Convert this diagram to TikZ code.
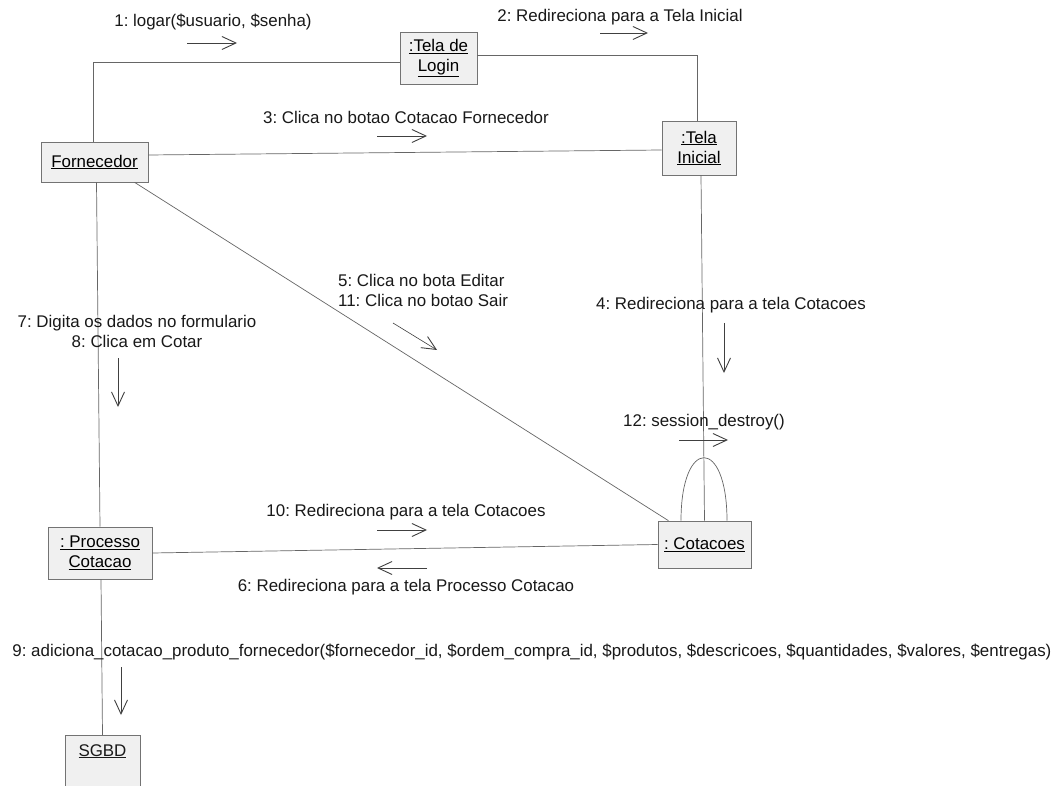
\documentclass[tikz,border=0pt]{standalone}
\usepackage{fontspec}
\setmainfont{Liberation Sans}
\usetikzlibrary{arrows.meta}
\frenchspacing
\begin{document}
\begin{tikzpicture}[x=1pt,y=-1pt,
  obj/.style={draw=black!55, fill=black!6, line width=0.6pt, inner sep=0pt, align=center, font=\fontsize{16.9}{20}\selectfont},
  lnk/.style={draw=black!60, line width=0.7pt},
  msg/.style={draw=black!75, line width=0.6pt, -{Straight Barb[length=14pt,width=13pt,line width=0.9pt]}},
  lbl/.style={inner sep=0pt, font=\fontsize{16.9}{20}\selectfont, text=black!90}]
\useasboundingbox[fill=white] (0,0) rectangle (1063,786);
\clip (0,0) rectangle (1063,786);
% objects
\node[obj, minimum width=77pt, minimum height=52pt] (login) at (438.5,58) {\underline{:Tela de}\\\underline{Login}};
\node[obj, minimum width=107pt, minimum height=40pt] (forn) at (94.5,162) {\underline{Fornecedor}};
\node[obj, minimum width=74pt, minimum height=54pt] (inicial) at (699,148) {\underline{:Tela}\\\underline{Inicial}};
\node[obj, minimum width=104pt, minimum height=52pt] (proc) at (100,553) {\underline{: Processo}\\\underline{Cotacao}};
\node[obj, minimum width=93pt, minimum height=47pt] (cot) at (704.5,544.5) {\underline{: Cotacoes}};
\node[obj, minimum width=75pt, minimum height=62pt, anchor=north,
  label={[lbl, anchor=north, yshift=-9pt]north:\underline{SGBD}}] (sgbd) at (102.5,735) {};
% links
\draw[lnk] ([xshift=-1pt]forn.north) |- ([yshift=-4pt]login.west);
\draw[lnk] ([yshift=3pt]login.east) -| ([xshift=-2pt]inicial.north);
\draw[lnk] ([yshift=7pt]forn.east) -- ([yshift=-2pt]inicial.west);
\draw[lnk] ([xshift=2pt]inicial.south) -- (cot.north);
\draw[lnk] ([xshift=40pt]forn.south) -- ([xshift=-36pt]cot.north);
\draw[lnk] ([xshift=2pt]forn.south) -- (proc.north);
\draw[lnk] (proc.east) -- (cot.west);
\draw[lnk] ([xshift=1pt]proc.south) -- (sgbd.north);
\draw[lnk] ([xshift=-23.5pt]cot.north) .. controls +(0,-84) and +(0,-84) .. ([xshift=22.5pt]cot.north);
% message arrows
\coordinate (m1a) at (187,43);  \coordinate (m1b) at (237,43);
\coordinate (m2a) at (600,33);  \coordinate (m2b) at (648,33);
\coordinate (m3a) at (377,136); \coordinate (m3b) at (427,136);
\coordinate (m4a) at (724,323); \coordinate (m4b) at (724,373);
\coordinate (m5a) at (393,323); \coordinate (m5b) at (437,350);
\coordinate (m7a) at (118,358); \coordinate (m7b) at (118,407);
\coordinate (m12a) at (679,440); \coordinate (m12b) at (728,440);
\coordinate (m10a) at (377,530); \coordinate (m10b) at (427,530);
\coordinate (m6a) at (427,568); \coordinate (m6b) at (377,568);
\coordinate (m9a) at (121,667); \coordinate (m9b) at (121,715);
\foreach \m in {1,2,3,4,5,7,12,10,6,9} \draw[msg] (m\m a) -- (m\m b);
% labels
\node[lbl] (l1) at (213,22) {1: logar(\$usuario, \$senha)};
\node[lbl] (l2) at (620,17) {2: Redireciona para a Tela Inicial};
\node[lbl] (l3) at (406,117) {3: Clica no botao Cotacao Fornecedor};
\node[lbl] (l4) at (731,305) {4: Redireciona para a tela Cotacoes};
\node[lbl, anchor=west, align=left] (l5) at (338,290) {5: Clica no bota Editar\\11: Clica no botao Sair};
\node[lbl, align=center] (l7) at (137,331) {7: Digita os dados no formulario\\8: Clica em Cotar};
\node[lbl] (l12) at (704,422) {12: session\_destroy()};
\node[lbl] (l10) at (406,512) {10: Redireciona para a tela Cotacoes};
\node[lbl] (l6) at (406,587) {6: Redireciona para a tela Processo Cotacao};
\node[lbl] (l9) at (532,652) {9: adiciona\_cotacao\_produto\_fornecedor(\$fornecedor\_id, \$ordem\_compra\_id, \$produtos, \$descricoes, \$quantidades, \$valores, \$entregas)};
\end{tikzpicture}
\end{document}
